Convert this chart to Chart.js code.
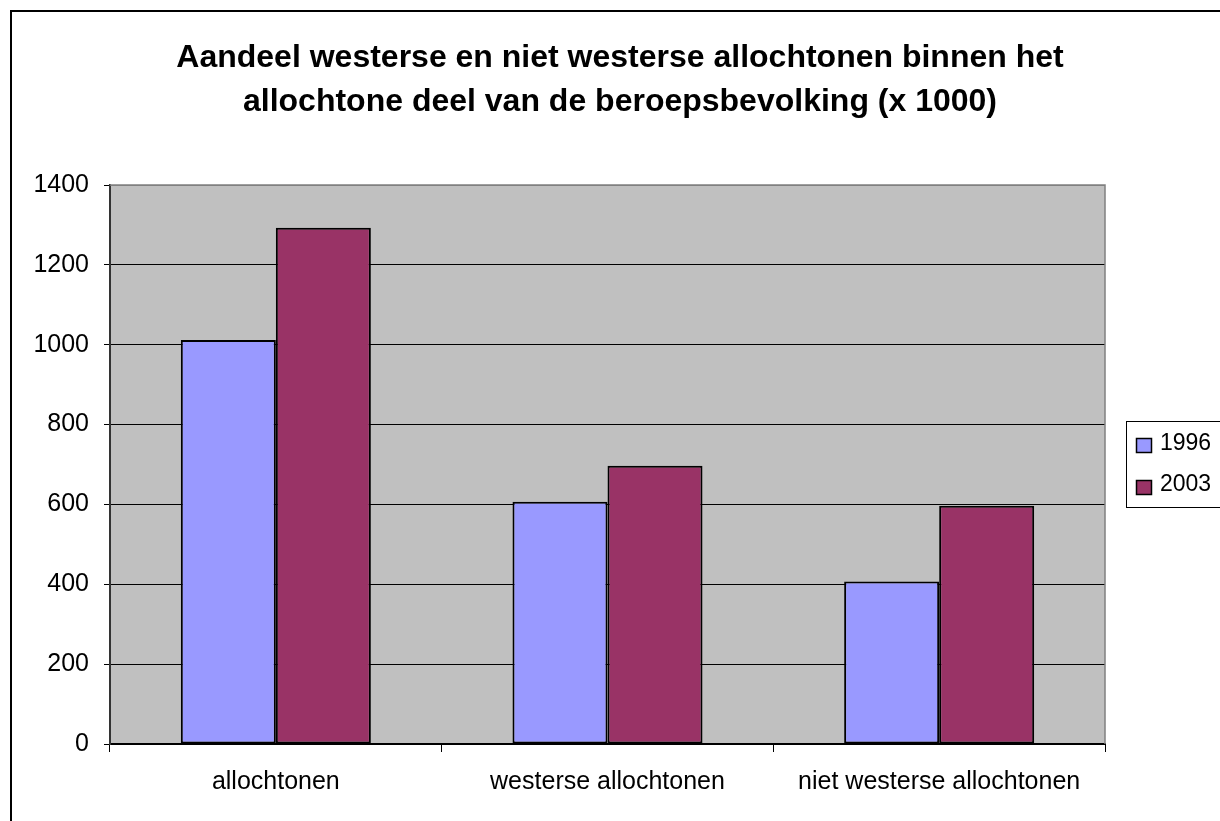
<!DOCTYPE html>
<html lang="nl">
<head>
    <meta charset="UTF-8">
    <title>Aandeel westerse en niet westerse allochtonen</title>
    <script src="https://cdn.jsdelivr.net/npm/chart.js"></script>
    <style>
        body {
            margin: 0;
            background: #fff;
            overflow: hidden;
        }
        /* rand van het grafiekvlak, loopt rechts en onder buiten beeld */
        #frame {
            position: absolute;
            left: 10px;
            top: 10px;
            width: 1230px;
            height: 830px;
            border: 2px solid #000;
        }
        #chart {
            position: absolute;
            left: 0;
            top: 0;
        }
    </style>
</head>
<body>
<div id="frame"></div>
<canvas id="chart" width="1220" height="821"></canvas>
<script>
    // Gegevens (x 1000)
    const titelRegels = [
        'Aandeel westerse en niet westerse allochtonen binnen het',
        'allochtone deel van de beroepsbevolking (x 1000)'
    ];
    const categorieen = ['allochtonen', 'westerse allochtonen', 'niet westerse allochtonen'];
    const jaren = ['1996', '2003'];
    const waarden1996 = [1012, 607, 407];
    const waarden2003 = [1293, 697, 597];
    const kleuren = ['#9999FF', '#993366'];

    const FONT = '"Liberation Sans", Arial, sans-serif';

    // grijze achtergrond + rand van het plotgebied
    const plotVlak = {
        id: 'plotVlak',
        beforeDraw(chart) {
            const a = chart.chartArea, ctx = chart.ctx;
            ctx.save();
            ctx.fillStyle = '#C0C0C0';
            ctx.fillRect(a.left, a.top, a.right - a.left, a.bottom - a.top);
            ctx.restore();
        },
        afterDraw(chart) {
            const a = chart.chartArea, ctx = chart.ctx;
            ctx.save();
            ctx.strokeStyle = '#808080';
            ctx.lineWidth = 1.5;
            ctx.beginPath();
            ctx.moveTo(a.left, a.top);
            ctx.lineTo(a.right, a.top);
            ctx.lineTo(a.right, a.bottom);
            ctx.stroke();
            ctx.restore();
        }
    };

    // titel in twee regels, gecentreerd op het hele vlak
    const titelPlugin = {
        id: 'titelPlugin',
        afterDraw(chart) {
            const ctx = chart.ctx;
            ctx.save();
            ctx.fillStyle = '#000';
            ctx.font = 'bold 32px ' + FONT;
            ctx.textAlign = 'center';
            ctx.textBaseline = 'middle';
            titelRegels.forEach((r, i) => ctx.fillText(r, 620, 58 + i * 44));
            ctx.restore();
        }
    };

    // legenda met kader rechts van het plotgebied
    const legendaPlugin = {
        id: 'legendaPlugin',
        afterDraw(chart) {
            const ctx = chart.ctx;
            const x = chart.chartArea.right + 21, y = 421, w = 94, h = 86;
            ctx.save();
            ctx.fillStyle = '#fff';
            ctx.fillRect(x, y, w, h);
            ctx.strokeStyle = '#000';
            ctx.lineWidth = 1;
            ctx.strokeRect(x + 0.5, y + 0.5, w, h);
            ctx.font = '23px ' + FONT;
            ctx.textBaseline = 'middle';
            chart.data.datasets.forEach((ds, i) => {
                const top = y + 17 + i * 42;
                ctx.fillStyle = ds.backgroundColor;
                ctx.fillRect(x + 10, top, 16, 15);
                ctx.lineWidth = 1.5;
                ctx.strokeRect(x + 10.5, top + 0.5, 15, 14);
                ctx.fillStyle = '#000';
                ctx.fillText(ds.label, x + 34, top + 6 + i * -1);
            });
            ctx.restore();
        }
    };

    new Chart(document.getElementById('chart'), {
        type: 'bar',
        data: {
            labels: categorieen,
            datasets: [
                { label: jaren[0], data: waarden1996, backgroundColor: kleuren[0] },
                { label: jaren[1], data: waarden2003, backgroundColor: kleuren[1] }
            ]
        },
        options: {
            responsive: false,
            animation: false,
            layout: { padding: { left: 10, right: 115, top: 185, bottom: 0 } },
            datasets: {
                bar: {
                    borderColor: '#000',
                    borderWidth: 2,
                    borderSkipped: false,
                    categoryPercentage: 0.573,
                    barPercentage: 1
                }
            },
            plugins: {
                legend: { display: false },
                title: { display: false },
                tooltip: { enabled: false }
            },
            scales: {
                x: {
                    afterFit(s) { s.height = 77; },
                    grid: {
                        offset: true,
                        drawOnChartArea: false,
                        tickLength: 8,
                        color: '#000',
                        lineWidth: 1
                    },
                    border: { color: '#000', width: 2 },
                    ticks: {
                        color: '#000',
                        font: { family: FONT, size: 25 },
                        padding: 15,
                        maxRotation: 0
                    }
                },
                y: {
                    min: 0,
                    max: 1400,
                    afterFit(s) { s.width = 100; },
                    grid: {
                        color: ctx => ctx.tick && ctx.tick.value === 1400 ? '#808080' : '#000',
                        lineWidth: 1,
                        tickLength: 6,
                        tickColor: '#000'
                    },
                    border: { color: '#333', width: 2 },
                    ticks: {
                        stepSize: 200,
                        color: '#000',
                        font: { family: FONT, size: 25 },
                        padding: 15,
                        callback: v => String(v)
                    }
                }
            }
        },
        plugins: [plotVlak, titelPlugin, legendaPlugin]
    });
</script>
</body>
</html>
